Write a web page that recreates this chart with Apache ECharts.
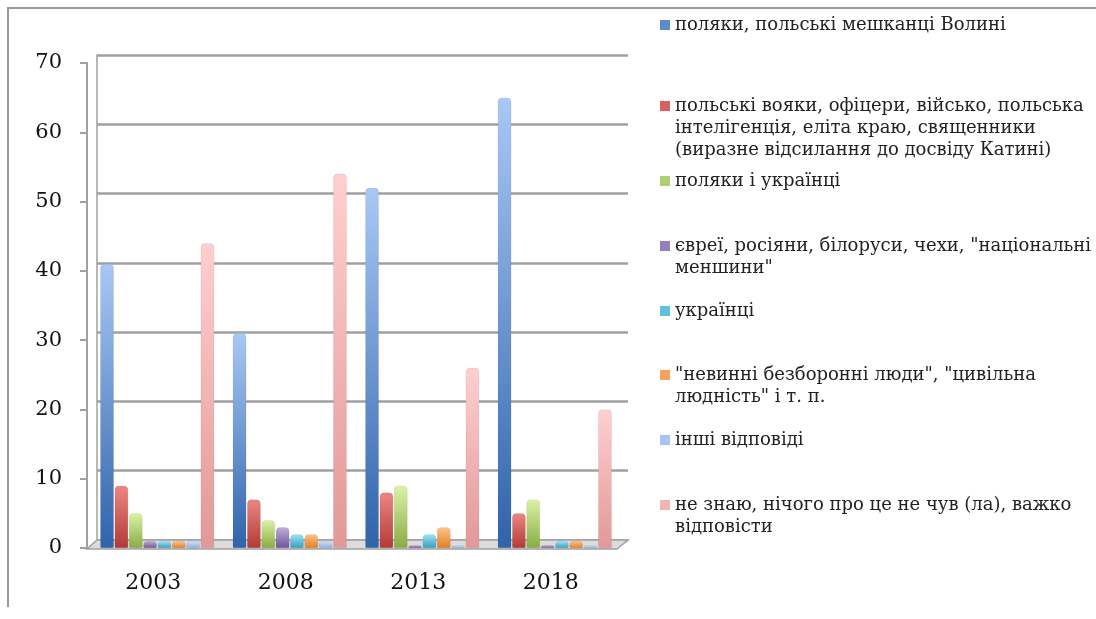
<!DOCTYPE html>
<html>
<head>
<meta charset="utf-8">
<script src="https://cdn.jsdelivr.net/npm/echarts@6/dist/echarts.min.js"></script>
<style>
  html, body { margin: 0; padding: 0; background: #fff; overflow: hidden; }
  #frame { position: absolute; left: 7px; top: 7px; width: 1100px; height: 598px;
    border-top: 2px solid #9a9a9a; border-left: 2px solid #9a9a9a; }
  #chart { position: absolute; left: 0; top: 0; width: 1096px; height: 619px; }
</style>
</head>
<body>
<div id="frame"></div>
<div id="chart"></div>
<script>
const years = ['2003', '2008', '2013', '2018']
const seriesNames = [
  'поляки, польські мешканці Волині',
  'польські вояки, офіцери, військо, польська\nінтелігенція, еліта краю, священники\n(виразне відсилання до досвіду Катині)',
  'поляки і українці',
  'євреї, росіяни, білоруси, чехи, "національні\nменшини"',
  'українці',
  '"невинні безборонні люди", "цивільна\nлюдність" і т. п.',
  'інші відповіді',
  'не знаю, нічого про це не чув (ла), важко\nвідповісти'
]
const poles = [41, 31, 52, 65]
const military = [9, 7, 8, 5]
const polesAndUkr = [5, 4, 9, 7]
const minorities = [1, 3, 0.4, 0.4]
const ukrainians = [1, 2, 2, 1]
const civilians = [1, 2, 3, 1]
const otherAnswers = [1, 1, 0.4, 0.4]
const dontKnow = [44, 54, 26, 20]
const yTicks = [0, 10, 20, 30, 40, 50, 60, 70]

const values = [poles, military, polesAndUkr, minorities, ukrainians, civilians, otherAnswers, dontKnow]
// top / bottom colours of each cylinder, plus the flat legend swatch
const shades = [
  ['#a9c8f5', '#2f63ab', '#5a8bd0'],
  ['#ec8682', '#b23a36', '#d9605c'],
  ['#dcf2a8', '#88ad42', '#acd072'],
  ['#bfaed9', '#725597', '#9580bb'],
  ['#9ee6f7', '#379dbb', '#5ec2da'],
  ['#ffc48a', '#e27e25', '#f7a25a'],
  ['#cfe0fa', '#8eaee0', '#a9c4ef'],
  ['#ffcfcf', '#e29898', '#f2b3b3']
]
// first-line centre of each legend entry
const legendCenters = [25, 106, 181, 246, 311, 375, 440, 505]
const lineH = 22

const chart = echarts.init(document.getElementById('chart'))

function grad(c) {
  return new echarts.graphic.LinearGradient(0, 0, 0, 1, [
    { offset: 0, color: c[0] },
    { offset: 1, color: c[1] }
  ])
}

const series = seriesNames.map((name, i) => ({
  name: name,
  type: 'bar',
  xAxisIndex: 2,
  yAxisIndex: 2,
  data: values[i],
  barGap: '6%',
  barCategoryGap: '14%',
  itemStyle: {
    color: grad(shades[i]),
    borderRadius: [4, 4, 1, 1],
    borderColor: 'rgba(0,0,0,0.12)',
    borderWidth: 0.5
  }
}))

// icon is a tall invisible box with the swatch at its top, so the swatch sits on the first text line
const legends = seriesNames.map((name, i) => {
  const n = name.split('\n').length
  const h = n * lineH
  return {
    data: [{ name: name, itemStyle: { color: shades[i][2], borderWidth: 0 } }],
    left: 660,
    top: legendCenters[i] - lineH / 2,
    padding: 0,
    itemWidth: 10,
    itemHeight: h,
    itemGap: 5,
    selectedMode: false,
    icon: 'path://M0,0 M0,6 L10,6 L10,16 L0,16 Z M0,' + h,
    textStyle: {
      fontFamily: 'DejaVu Serif',
      fontSize: 18,
      color: '#222',
      lineHeight: lineH
    }
  }
})

const option = {
  animation: false,
  grid: [
    { left: 87, right: 479, top: 63, bottom: 71 },
    { left: 97, right: 468, top: 55, bottom: 79 },
    { left: 91, right: 475, top: 63, bottom: 71 }
  ],
  xAxis: [
    {
      type: 'category',
      gridIndex: 0,
      data: years,
      axisLine: { lineStyle: { color: '#a0a0a0', width: 2 } },
      axisTick: { length: 9, lineStyle: { color: '#a0a0a0', width: 2 } },
      axisLabel: { margin: 24, fontFamily: 'DejaVu Serif', fontSize: 22, color: '#111' }
    },
    { type: 'value', gridIndex: 1, show: false },
    { type: 'category', gridIndex: 2, data: years, show: false }
  ],
  yAxis: [
    {
      type: 'value',
      gridIndex: 0,
      min: 0,
      max: 70,
      interval: 10,
      axisLine: { show: true, lineStyle: { color: '#a0a0a0', width: 2 } },
      axisTick: { show: true, length: 7, lineStyle: { color: '#a0a0a0', width: 2 } },
      splitLine: { show: false },
      axisLabel: {
        margin: 25,
        fontFamily: 'DejaVu Serif',
        fontSize: 21,
        color: '#111',
        formatter: v => (yTicks.includes(v) ? String(v) : '')
      }
    },
    {
      type: 'value',
      gridIndex: 1,
      min: 0,
      max: 70,
      interval: 10,
      axisLine: { show: true, lineStyle: { color: '#a0a0a0', width: 1.5 } },
      axisTick: { show: false },
      axisLabel: { show: false },
      splitLine: { lineStyle: { color: '#a0a0a0', width: 2.5 } }
    },
    { type: 'value', gridIndex: 2, min: 0, max: 70, interval: 10, show: false, splitLine: { show: false } }
  ],
  legend: legends,
  graphic: [
    {
      // floor of the 3D plot
      type: 'polygon',
      z: 1,
      shape: { points: [[87, 549], [617, 549], [628, 540], [97, 540]] },
      style: { fill: '#dcdcdc', stroke: '#a0a0a0', lineWidth: 1.5 }
    }
  ],
  series: series
}

chart.setOption(option)
</script>
</body>
</html>
